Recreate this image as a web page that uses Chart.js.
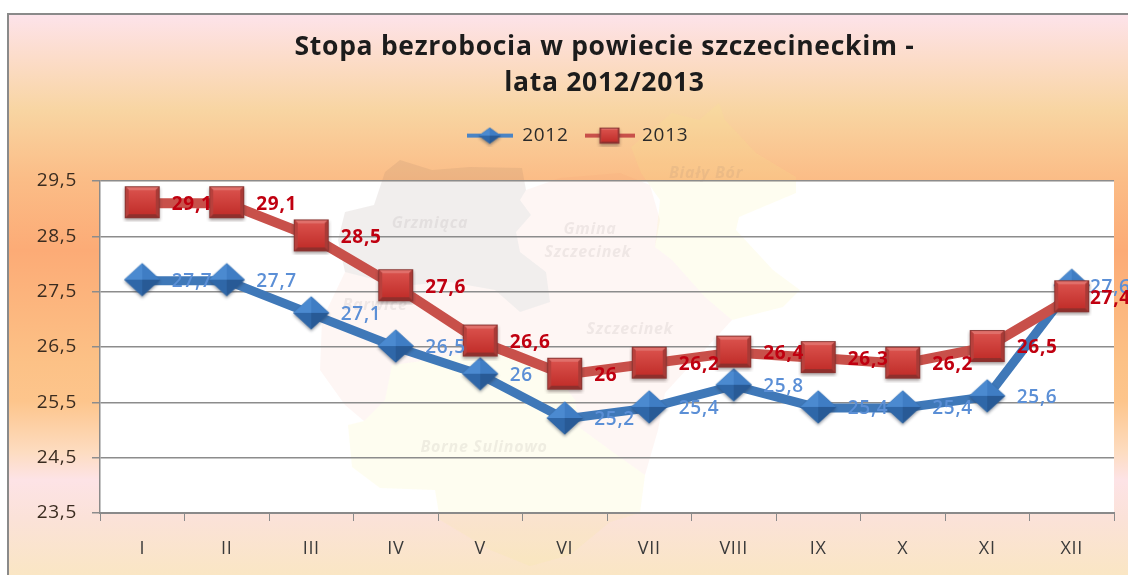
<!DOCTYPE html>
<html lang="pl">
<head>
<meta charset="utf-8">
<title>Stopa bezrobocia</title>
<script src="https://cdn.jsdelivr.net/npm/chart.js@4"></script>
<style>
html,body{margin:0;padding:0;background:#fff;overflow:hidden}
#frame{position:absolute;left:7px;top:13px;width:1121px;height:562px;box-sizing:border-box;border-left:2px solid #8a8a8a;border-top:2px solid #8a8a8a;
background:linear-gradient(180deg,#fde3ea 0,#fcdcc8 8%,#f8d5a2 17%,#fbbd87 29%,#fcab76 42%,#fcc186 62%,#fdc58c 69%,#fddcc0 78%,#fde3e6 83%,#fbe2d8 90%,#fae6c4 100%)}
#c{position:absolute;left:0;top:0;filter:blur(.55px)}
</style>
</head>
<body>
<div id="frame"></div>
<canvas id="c" width="1128" height="575"></canvas>
<script>
const categories = ['I','II','III','IV','V','VI','VII','VIII','IX','X','XI','XII'];
const series2012 = [27.7,27.7,27.1,26.5,26,25.2,25.4,25.8,25.4,25.4,25.6,27.6];
const series2013 = [29.1,29.1,28.5,27.6,26.6,26,26.2,26.4,26.3,26.2,26.5,27.4];
const yMin = 23.5, yMax = 29.5, yStep = 1;
const titleLines = ['Stopa bezrobocia w powiecie szczecineckim -','lata 2012/2013'];
const BLUE = '#3f78b8', RED = '#c8504a', BLUE_TXT = '#5b8fd6', RED_TXT = '#c00010', FONT = '"Open Sans", sans-serif';

const fmt = v => String(v).replace('.',',');

/* decorative map behind the plot */
const mapRegions = [
 {fill:'rgba(125,100,95,.11)', pts:[[385,172],[400,160],[432,170],[470,167],[522,168],[526,190],[520,200],[531,215],[516,232],[520,252],[546,272],[550,302],[520,312],[495,290],[450,282],[400,286],[345,272],[338,240],[345,212],[374,205]]},
 {fill:'rgba(240,130,100,.07)', pts:[[345,272],[400,286],[450,282],[495,290],[520,312],[520,360],[480,350],[430,360],[392,365],[385,400],[364,421],[345,405],[320,370],[322,320]]},
 {fill:'rgba(240,130,100,.07)', pts:[[526,190],[560,178],[620,173],[650,185],[660,220],[655,247],[672,260],[705,297],[732,320],[665,393],[658,430],[645,475],[610,450],[580,428],[575,400],[560,380],[520,360],[520,312],[550,302],[546,272],[520,252],[516,232],[531,215],[520,200]]},
 {fill:'rgba(250,240,140,.13)', pts:[[364,421],[385,400],[392,365],[430,360],[480,350],[520,360],[560,380],[575,400],[580,428],[610,450],[645,475],[640,513],[610,522],[570,555],[530,566],[490,550],[440,520],[435,490],[380,488],[352,467],[348,425]]},
 {fill:'rgba(250,240,140,.13)', pts:[[719,103],[725,120],[756,153],[796,177],[796,193],[739,217],[736,230],[773,270],[800,290],[783,307],[732,320],[705,297],[672,260],[655,247],[660,200],[641,173],[631,147],[672,113],[699,120]]}
];
const mapTexts = [
 ['Biały Bór',706,173],['Grzmiąca',430,223],['Gmina',590,229],['Szczecinek',588,252],
 ['Barwice',375,305],['Szczecinek',630,329],['Borne Sulinowo',484,447]
];
const backdrop = {
 id:'backdrop',
 afterInit(chart){ chart.ctx.letterSpacing='0.7px'; },
 beforeLayout(chart){ chart.ctx.letterSpacing='0.7px'; },
 beforeDraw(chart){
  const {ctx,chartArea:a} = chart;
  ctx.save();
  ctx.fillStyle='#fff';
  ctx.fillRect(a.left,a.top,a.right-a.left,a.bottom-a.top);
  for(const r of mapRegions){
   ctx.beginPath();
   r.pts.forEach((p,i)=> i?ctx.lineTo(p[0],p[1]):ctx.moveTo(p[0],p[1]));
   ctx.closePath();
   ctx.fillStyle=r.fill; ctx.fill();
  }
  ctx.font='italic bold 16px '+FONT;
  ctx.fillStyle='rgba(120,110,110,.11)';
  ctx.textAlign='center'; ctx.textBaseline='middle';
  for(const t of mapTexts) ctx.fillText(t[0],t[1],t[2]);
  ctx.restore();
 }
};

/* bevelled markers */
function mk(w,h){const c=document.createElement('canvas');c.width=w;c.height=h;return c;}
function squareOn(g,x,y,w,h,b){
 const poly=(pts,f)=>{g.beginPath();pts.forEach((p,i)=>i?g.lineTo(p[0],p[1]):g.moveTo(p[0],p[1]));g.closePath();g.fillStyle=f;g.fill();};
 g.save();g.shadowColor='rgba(60,40,40,.45)';g.shadowBlur=3;g.shadowOffsetY=2;g.fillStyle='#8e3330';g.fillRect(x,y,w,h);g.restore();
 poly([[x,y],[x+w,y],[x+w-b,y+b],[x+b,y+b]],'#e06f6a');
 poly([[x,y+h],[x+w,y+h],[x+w-b,y+h-b],[x+b,y+h-b]],'#8f2f2c');
 poly([[x,y],[x+b,y+b],[x+b,y+h-b],[x,y+h]],'#b8403c');
 poly([[x+w,y],[x+w-b,y+b],[x+w-b,y+h-b],[x+w,y+h]],'#a93a36');
 const gr=g.createLinearGradient(0,y+b,0,y+h-b);gr.addColorStop(0,'#d9504b');gr.addColorStop(1,'#c22f2b');
 g.fillStyle=gr;g.fillRect(x+b,y+b,w-2*b,h-2*b);
 g.strokeStyle='#8a3431';g.lineWidth=1;g.strokeRect(x+.5,y+.5,w-1,h-1);
}
function diamondOn(g,cx,cy,rx,ry){
 const T=[cx,cy-ry],R=[cx+rx,cy],B=[cx,cy+ry],L=[cx-rx,cy],C=[cx,cy];
 const poly=(pts,f)=>{g.beginPath();pts.forEach((p,i)=>i?g.lineTo(p[0],p[1]):g.moveTo(p[0],p[1]));g.closePath();g.fillStyle=f;g.fill();};
 g.save();g.shadowColor='rgba(40,50,70,.45)';g.shadowBlur=3;g.shadowOffsetY=2;poly([T,R,B,L],'#2f639f');g.restore();
 poly([T,C,L],'#4b8ad0');poly([T,R,C],'#3f7dc4');poly([L,C,B],'#2f67a8');poly([C,R,B],'#285a96');
}
const sqPt=mk(41,38); squareOn(sqPt.getContext('2d'),3,2,35,32,4);
const dmPt=mk(44,40); diamondOn(dmPt.getContext('2d'),22,19,18,16.5);
const sqLeg=mk(50,22); {const g=sqLeg.getContext('2d');g.fillStyle=RED;g.fillRect(0,9,50,4);squareOn(g,15,3,20,16,2);}
const dmLeg=mk(46,22); {const g=dmLeg.getContext('2d');g.fillStyle='#4a84c4';g.fillRect(0,9,46,4);diamondOn(g,23,11,11,8);}

/* value labels beside each point */
const valueLabels = {
 id:'valueLabels',
 afterDatasetsDraw(chart){
  const {ctx}=chart;
  ctx.save();
  ctx.textBaseline='middle';ctx.textAlign='left';
  chart.data.datasets.forEach((ds,i)=>{
   const meta=chart.getDatasetMeta(i);
   ctx.font=(i===1?'bold ':'600 ')+'19px '+FONT;
   ctx.fillStyle=i===1?RED_TXT:BLUE_TXT;
   meta.data.forEach((pt,j)=>ctx.fillText(fmt(ds.data[j]),Math.min(pt.x+29.5,chart.width-38),pt.y+1));
  });
  ctx.restore();
 }
};
const shiftBlocks = {
 id:'shiftBlocks',
 afterLayout(chart){
  chart.titleBlock.left+=47; chart.titleBlock.right+=47;
  chart.legend.left+=20; chart.legend.right+=20;
  chart.legend.top-=26; chart.legend.bottom-=26;
 }
};

new Chart(document.getElementById('c'),{
 type:'line',
 plugins:[backdrop,valueLabels,shiftBlocks],
 data:{labels:categories,datasets:[
  {label:'2012',data:series2012,borderColor:BLUE,backgroundColor:BLUE,borderWidth:9,tension:0,pointStyle:dmPt,order:2,clip:false},
  {label:'2013',data:series2013,borderColor:RED,backgroundColor:RED,borderWidth:10,tension:0,pointStyle:sqPt,order:1,clip:false}
 ]},
 options:{
  responsive:false,animation:false,
  layout:{padding:{left:0,right:13,top:0,bottom:0}},
  plugins:{
   tooltip:{enabled:false},
   title:{display:true,text:titleLines,color:'#1c1c1c',font:{family:FONT,size:26.5,weight:'bold',lineHeight:1.36},padding:{top:29,bottom:33}},
   legend:{display:true,position:'top',labels:{
     font:{family:FONT,size:19},color:'#2a2a2a',usePointStyle:true,pointStyleWidth:46,padding:18,boxHeight:18,
     generateLabels(){return [
       {text:'2012',pointStyle:dmLeg,fillStyle:BLUE,strokeStyle:BLUE,lineWidth:0,fontColor:'#2a2a2a',datasetIndex:0},
       {text:'2013',pointStyle:sqLeg,fillStyle:RED,strokeStyle:RED,lineWidth:0,fontColor:'#2a2a2a',datasetIndex:1}
     ];}
   }}
  },
  scales:{
   x:{offset:true,
      afterFit(s){s.height=62;},
      grid:{drawOnChartArea:false,drawTicks:true,tickLength:8,color:'#8a8a8a',offset:true},
      border:{color:'#8a8a8a',width:2},
      ticks:{color:'#3a3a3a',font:{family:FONT,size:18},padding:17,maxRotation:0,autoSkip:false}},
   y:{min:yMin,max:yMax,
      afterFit(s){s.width=100;},
      grid:{color:'#8c8c8c',lineWidth:1.5,tickLength:8},
      border:{color:'#8a8a8a',width:1.5},
      ticks:{stepSize:yStep,color:'#3a2c20',font:{family:FONT,size:19},padding:15,callback:v=>fmt(v.toFixed(1))}}
  }
 }
});
</script>
</body>
</html>
